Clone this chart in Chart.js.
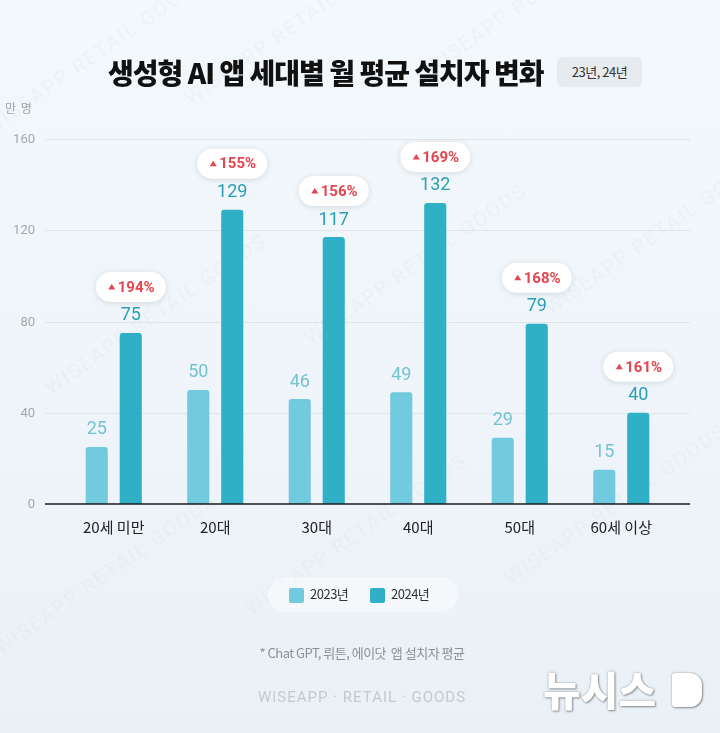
<!DOCTYPE html>
<html>
<head>
<meta charset="utf-8">
<script src="https://cdn.jsdelivr.net/npm/chart.js@4"></script>
<style>
  html, body { margin: 0; padding: 0; }
  body { width: 720px; height: 733px; overflow: hidden; font-family: "Noto Sans CJK KR", Roboto, sans-serif; }
  #wrap { position: relative; width: 720px; height: 733px; background: linear-gradient(180deg, #f3f8fc 0%, #eef4f9 60%, #eaf1f6 100%); overflow: hidden; }
  #c { position: absolute; left: 0; top: 0; }
  .wm { position: absolute; font-family: Roboto, sans-serif; font-size: 20px; color: rgba(190,205,218,0.14); letter-spacing: 2px; white-space: nowrap; transform: rotate(-35deg); transform-origin: left top; }
  .title { position: absolute; left: 108px; top: 54px; line-height: 36px; font-size: 28px; font-weight: 900; color: #111; letter-spacing: -1px; white-space: nowrap; }
  .badge { position: absolute; left: 557px; top: 57px; width: 85px; height: 30px; line-height: 30px; text-align: center; background: #e6ebf0; border-radius: 6px; font-size: 13px; color: #333; letter-spacing: -0.5px; }
  .unit { position: absolute; left: 5px; top: 99px; font-size: 12px; color: #a0a5aa; letter-spacing: 1px; }
  .legend { position: absolute; left: 268px; top: 577px; width: 190px; height: 35px; border-radius: 18px; background: rgba(255,255,255,0.45); }
  .lg { position: absolute; top: 11px; width: 15px; height: 15px; border-radius: 2px; }
  .lt { position: absolute; top: 7px; font-size: 13px; color: #333; letter-spacing: -0.5px; }
  .foot { position: absolute; left: 0; width: 724px; top: 643px; text-align: center; font-size: 13px; color: #8a9096; letter-spacing: -0.5px; }
  .wise { position: absolute; left: 0; width: 724px; top: 688px; text-align: center; font-family: Roboto, sans-serif; font-size: 15px; color: #c5c9ce; letter-spacing: 1px; }
  .logo { position: absolute; left: 543px; top: 668px; line-height: 40px; font-size: 41px; font-weight: 900; color: #fff; text-shadow: 0 0 2px #8a8f95, 1px 1px 2px #8a8f95; letter-spacing: 0px; }
  .logoD { position: absolute; left: 672px; top: 673px; width: 30px; height: 34px; border-radius: 3px 12px 12px 3px; background: #fff; box-shadow: 0 0 2px #8a8f95, 1px 1px 2px #8a8f95; }
</style>
</head>
<body>
<div id="wrap">
  <div class="wm" style="left:-20px;top:120px">WISEAPP RETAIL GOODS</div>
  <div class="wm" style="left:180px;top:90px">WISEAPP RETAIL GOODS</div>
  <div class="wm" style="left:420px;top:60px">WISEAPP RETAIL GOODS</div>
  <div class="wm" style="left:40px;top:380px">WISEAPP RETAIL GOODS</div>
  <div class="wm" style="left:300px;top:330px">WISEAPP RETAIL GOODS</div>
  <div class="wm" style="left:540px;top:300px">WISEAPP RETAIL GOODS</div>
  <div class="wm" style="left:-10px;top:640px">WISEAPP RETAIL GOODS</div>
  <div class="wm" style="left:240px;top:600px">WISEAPP RETAIL GOODS</div>
  <div class="wm" style="left:500px;top:570px">WISEAPP RETAIL GOODS</div>
  <canvas id="c" width="720" height="733"></canvas>
  <div class="title">생성형 AI 앱 세대별 월 평균 설치자 변화</div>
  <div class="badge">23년, 24년</div>
  <div class="unit">만 명</div>
  <div class="legend">
    <div class="lg" style="left:21px;background:#72cadf"></div>
    <div class="lt" style="left:42px">2023년</div>
    <div class="lg" style="left:102px;background:#2fb0c7"></div>
    <div class="lt" style="left:123px">2024년</div>
  </div>
  <div class="foot">* Chat GPT, 뤼튼, 에이닷&nbsp; 앱 설치자 평균</div>
  <div class="wise">WISEAPP · RETAIL · GOODS</div>
  <div class="logo">뉴시스</div>
  <div class="logoD"></div>
</div>
<script>
const categories = ["20세 미만", "20대", "30대", "40대", "50대", "60세 이상"];
const values2023 = [25, 50, 46, 49, 29, 15];
const values2024 = [75, 129, 117, 132, 79, 40];
const growthLabels = ["194%", "155%", "156%", "169%", "168%", "161%"];
const yTicks = [0, 40, 80, 120, 160];
const seriesNames = ["2023년", "2024년"];

const C2023 = "#72cadf", C2024 = "#2fb0c7";

function roundRect(ctx, x, y, w, h, r) {
  ctx.beginPath();
  ctx.moveTo(x + r, y);
  ctx.lineTo(x + w - r, y);
  ctx.arcTo(x + w, y, x + w, y + r, r);
  ctx.lineTo(x + w, y + h - r);
  ctx.arcTo(x + w, y + h, x + w - r, y + h, r);
  ctx.lineTo(x + r, y + h);
  ctx.arcTo(x, y + h, x, y + h - r, r);
  ctx.lineTo(x, y + r);
  ctx.arcTo(x, y, x + r, y, r);
  ctx.closePath();
}

const gridPlugin = {
  id: "gridPlugin",
  beforeDatasetsDraw(chart) {
    const ctx = chart.ctx, y = chart.scales.y;
    ctx.save();
    yTicks.forEach(t => {
      const py = Math.round(y.getPixelForValue(t)) + 0.5;
      ctx.font = "13px Roboto, sans-serif";
      ctx.fillStyle = "#a3a8ad";
      ctx.textAlign = "right";
      ctx.textBaseline = "middle";
      ctx.fillText(String(t), 35, py);
      if (t !== 0) {
        ctx.strokeStyle = "#dfe5ea";
        ctx.lineWidth = 1;
        ctx.beginPath(); ctx.moveTo(45, py); ctx.lineTo(690, py); ctx.stroke();
      }
    });
    ctx.restore();
  },
  afterDatasetsDraw(chart) {
    const ctx = chart.ctx, y = chart.scales.y, x = chart.scales.x;
    ctx.save();
    const py0 = y.getPixelForValue(0);
    ctx.strokeStyle = "#1a1a1a";
    ctx.lineWidth = 1.5;
    ctx.beginPath(); ctx.moveTo(45, py0); ctx.lineTo(690, py0); ctx.stroke();
    ctx.font = "15px 'Noto Sans CJK KR', sans-serif";
    ctx.fillStyle = "#222";
    ctx.textAlign = "center";
    ctx.textBaseline = "middle";
    categories.forEach((c, i) => ctx.fillText(c, x.getPixelForValue(i), 527));
    const colors = ["#74c3d3", "#2aa0b6"];
    chart.data.datasets.forEach((ds, di) => {
      const meta = chart.getDatasetMeta(di);
      meta.data.forEach((bar, i) => {
        ctx.font = "18px Roboto, sans-serif";
        ctx.fillStyle = colors[di];
        ctx.textAlign = "center";
        ctx.textBaseline = "middle";
        ctx.fillText(String(ds.data[i]), bar.x, bar.y - 17);
      });
    });
    const meta24 = chart.getDatasetMeta(1);
    meta24.data.forEach((bar, i) => {
      const cx = bar.x, cy = bar.y - 46;
      const w = 70, h = 30;
      ctx.save();
      ctx.shadowColor = "rgba(0,0,0,0.12)";
      ctx.shadowBlur = 6;
      ctx.shadowOffsetY = 1;
      ctx.fillStyle = "#ffffff";
      roundRect(ctx, cx - w / 2, cy - h / 2, w, h, 15);
      ctx.fill();
      ctx.restore();
      ctx.fillStyle = "#e2464f";
      const tx = cx - 19;
      ctx.beginPath();
      ctx.moveTo(tx - 3.5, cy + 2.5);
      ctx.lineTo(tx + 3.5, cy + 2.5);
      ctx.lineTo(tx, cy - 3);
      ctx.closePath();
      ctx.fill();
      ctx.font = "bold 15px Roboto, sans-serif";
      ctx.textAlign = "left";
      ctx.textBaseline = "middle";
      ctx.fillText(growthLabels[i], tx + 6, cy + 1);
    });
    ctx.restore();
  }
};

new Chart(document.getElementById("c"), {
  type: "bar",
  data: {
    labels: categories,
    datasets: [
      { label: seriesNames[0], data: values2023, backgroundColor: C2023, borderRadius: { topLeft: 3, topRight: 3 }, borderSkipped: "bottom" },
      { label: seriesNames[1], data: values2024, backgroundColor: C2024, borderRadius: { topLeft: 3, topRight: 3 }, borderSkipped: "bottom" }
    ]
  },
  options: {
    responsive: false,
    animation: false,
    devicePixelRatio: 1,
    layout: { padding: { left: 63, right: 48, top: 139, bottom: 229 } },
    categoryPercentage: 0.67,
    barPercentage: 0.65,
    plugins: { legend: { display: false }, tooltip: { enabled: false } },
    scales: {
      x: { display: false },
      y: { display: false, min: 0, max: 160 }
    }
  },
  plugins: [gridPlugin]
});
</script>
</body>
</html>
